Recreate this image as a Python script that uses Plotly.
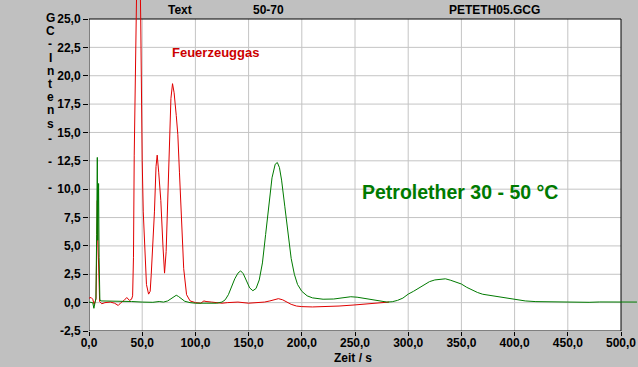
import plotly.graph_objects as go

# ---- data ----
green_t = [0, 2, 3.5, 4.6, 5.5, 6.5, 7.2, 7.8, 8.2, 8.6, 9.0, 9.5, 10.2, 11, 20, 30, 40, 50, 60, 66, 70,
           74, 77, 80, 82, 84, 87, 90, 95, 100, 110, 120, 125, 128, 131, 134, 137, 140, 142.5, 145, 148,
           151, 154, 157, 160, 163, 166, 169, 172, 175, 177, 179, 181, 184, 187, 190, 193, 196, 200, 205,
           210, 220, 230, 240, 246, 252, 260, 270, 280, 285, 290, 295, 300, 305, 310, 315, 320, 325, 330,
           335, 340, 345, 350, 355, 360, 365, 370, 380, 390, 400, 410, 420, 435, 450, 460, 470, 480, 490,
           500, 505, 510, 515]
green_v = [0.05, 0.05, 0.0, -0.5, 0.1, 0.4, 6, 12.8, 5.5, 8, 10.5, 4, 0.3, 0.15, 0.15, 0.12, 0.1, 0.05, 0.03, 0.1, 0.05,
           0.15, 0.35, 0.58, 0.65, 0.55, 0.3, 0.12, 0.0, -0.05, -0.05, -0.05, 0.05, 0.25, 0.7, 1.4, 2.1, 2.6, 2.8, 2.55, 1.9,
           1.3, 1.05, 1.25, 2.0, 3.5, 6.0, 8.8, 11.0, 12.2, 12.35, 11.9, 10.8, 8.5, 6.0, 3.9, 2.5, 1.6, 1.0, 0.6,
           0.42, 0.3, 0.32, 0.45, 0.52, 0.48, 0.35, 0.18, 0.05, 0.08, 0.2, 0.4, 0.75, 1.0, 1.27, 1.6, 1.85, 2.0, 2.08,
           2.1, 1.97, 1.82, 1.64, 1.35, 1.09, 0.9, 0.74, 0.59, 0.45, 0.27, 0.15, 0.09, 0.06, 0.05, 0.05, 0.03, 0.06, 0.05,
           0.05, 0.03, 0.0, 0.05]

red_t = [0, 2, 3.5, 4.8, 5.8, 6.6, 7.3, 7.8, 8.3, 8.8, 9.3, 10, 12, 15, 20, 24, 27.5, 30, 33, 35.5, 38, 40,
         41, 41.8, 42.5, 43.5, 44.1, 45, 46.5, 48, 48.6, 49, 50, 51, 52.6, 54, 56, 57.5, 58.5, 60, 61.5, 63,
         64.1, 65.5, 67.5, 69.5, 71, 72.5, 74, 75.5, 77, 78.5, 80, 82, 83.5, 85, 87, 89, 91.7, 95, 100, 105,
         108, 110, 115, 120, 125, 130, 140, 150, 160, 165, 170, 175, 178, 182, 186, 190, 195, 200, 210, 220,
         235, 250, 265, 275, 282]
red_v = [0.4, 0.45, 0.3, -0.15, 0.1, 0.3, 5, 9.0, 5.7, 3.2, 1.3, 0.1, -0.1, 0.0, 0.05, -0.05, -0.25, 0.0, 0.2, 0.45, 0.2, 0.3,
         0.6, 4, 13, 21, 25, 29, 31, 29, 25, 19.5, 12.5, 8, 3.7, 1.6, 0.75, 1.0, 2.5, 5, 8, 12,
         13, 11.5, 9, 5, 2.6, 4.5, 9, 14, 18, 19.3, 18.5, 16.5, 14.8, 11.5, 6.5, 3, 0.7, 0.15, 0.0, -0.05,
         0.15, 0.1, 0.05, 0.0, -0.05, 0.0, 0.05, -0.05, 0.0, 0.05, 0.15, 0.3, 0.35, 0.25, 0.05, -0.15, -0.3, -0.35, -0.38, -0.36,
         -0.3, -0.2, -0.1, -0.02, 0.05]

x_ticks = [0, 50, 100, 150, 200, 250, 300, 350, 400, 450, 500]
x_tick_labels = ["0,0", "50,0", "100,0", "150,0", "200,0", "250,0", "300,0", "350,0", "400,0", "450,0", "500,0"]
y_ticks = [-2.5, 0, 2.5, 5, 7.5, 10, 12.5, 15, 17.5, 20, 22.5, 25]
y_tick_labels = ["-2,5", "0,0", "2,5", "5,0", "7,5", "10,0", "12,5", "15,0", "17,5", "20,0", "22,5", "25,0"]

X_MIN, X_MAX = 0, 500
Y_MIN, Y_MAX = -2.5, 25

RED = "#e00000"
GREEN = "#007a00"
GRID = "#c4c4c4"
BG = "#c0c0c0"
FONT = "Liberation Sans"

fig = go.Figure()
fig.add_trace(go.Scatter(x=red_t, y=red_v, mode="lines", line=dict(color=RED, width=1), showlegend=False))
fig.add_trace(go.Scatter(x=green_t, y=green_v, mode="lines", line=dict(color=GREEN, width=1), showlegend=False))

shapes = [dict(type="rect", xref="x", yref="y", x0=X_MIN, x1=X_MAX, y0=Y_MIN, y1=Y_MAX,
               fillcolor="white", line=dict(width=0), layer="below")]
for xv in x_ticks[1:-1]:
    shapes.append(dict(type="line", xref="x", yref="y", x0=xv, x1=xv, y0=Y_MIN, y1=Y_MAX,
                       line=dict(color=GRID, width=1), layer="between"))
for yv in y_ticks[1:-1]:
    shapes.append(dict(type="line", xref="x", yref="y", x0=X_MIN, x1=X_MAX, y0=yv, y1=yv,
                       line=dict(color=GRID, width=1), layer="between"))
shapes.append(dict(type="rect", xref="x", yref="y", x0=X_MIN, x1=X_MAX, y0=Y_MIN, y1=Y_MAX,
                   line=dict(color="black", width=1), fillcolor="rgba(0,0,0,0)", layer="between"))

W, H = 638, 367
ML, MB = 89, 36
PW, PH = W - ML, H - MB

def px(xp):
    return (xp - ML) / PW

def py(yp):
    return 1 - yp / PH

bold = dict(family=FONT, size=12, color="black", weight="bold")
annotations = []
# stacked y-axis title
letters = ["G", "C", "-", "I", "n", "t", "e", "n", "s", "-", "-", "-"]
ypos = [18, 31, 44, 58, 71, 84, 97, 110, 124, 139, 162, 188]
for ch, yp in zip(letters, ypos):
    annotations.append(dict(text=ch, xref="paper", yref="paper", x=px(50), y=py(yp),
                            xanchor="center", yanchor="middle", showarrow=False, font=bold))
annotations += [
    dict(text="Text", xref="paper", yref="paper", x=px(180), y=py(10), xanchor="center", yanchor="middle",
         showarrow=False, font=bold),
    dict(text="50-70", xref="paper", yref="paper", x=px(268), y=py(10), xanchor="center", yanchor="middle",
         showarrow=False, font=bold),
    dict(text="PETETH05.GCG", xref="paper", yref="paper", x=px(494), y=py(10), xanchor="center", yanchor="middle",
         showarrow=False, font=bold),
    dict(text="Zeit / s", xref="paper", yref="paper", x=px(332), y=py(358), xanchor="left", yanchor="middle",
         showarrow=False, font=bold),
    dict(text="Feuerzeuggas", xref="paper", yref="paper", x=px(215), y=py(52), xanchor="center", yanchor="middle",
         showarrow=False, font=dict(family=FONT, size=13, color="#cc0000", weight="bold")),
    dict(text="Petrolether 30 - 50 °C", xref="paper", yref="paper", x=px(460), y=py(192), xanchor="center",
         yanchor="middle", showarrow=False, font=dict(family=FONT, size=19.5, color=GREEN, weight="bold")),
]

px_per_x = (621 - 89) / 500.0
px_per_y = (331 - 19) / 27.5

fig.update_layout(
    width=W, height=H,
    margin=dict(l=ML, r=0, t=0, b=MB, pad=0),
    paper_bgcolor=BG, plot_bgcolor=BG,
    shapes=shapes, annotations=annotations,
    xaxis=dict(range=[0, PW / px_per_x], tickvals=x_ticks, ticktext=x_tick_labels, showgrid=False,
               zeroline=False, showline=False, ticks="outside", ticklen=4, tickcolor="black",
               tickfont=bold, fixedrange=True, ticklabelstandoff=-3),
    yaxis=dict(range=[Y_MIN, Y_MIN + PH / px_per_y], tickvals=y_ticks, ticktext=y_tick_labels, showgrid=False,
               zeroline=False, showline=False, ticks="outside", ticklen=5, tickcolor="black",
               tickfont=bold, fixedrange=True),
    font=dict(family=FONT),
)

fig.write_html("out.html", config={"displayModeBar": False},
               post_script="document.body.style.margin='0';document.body.style.overflow='hidden';"
                           "document.body.style.background='#c0c0c0';")
